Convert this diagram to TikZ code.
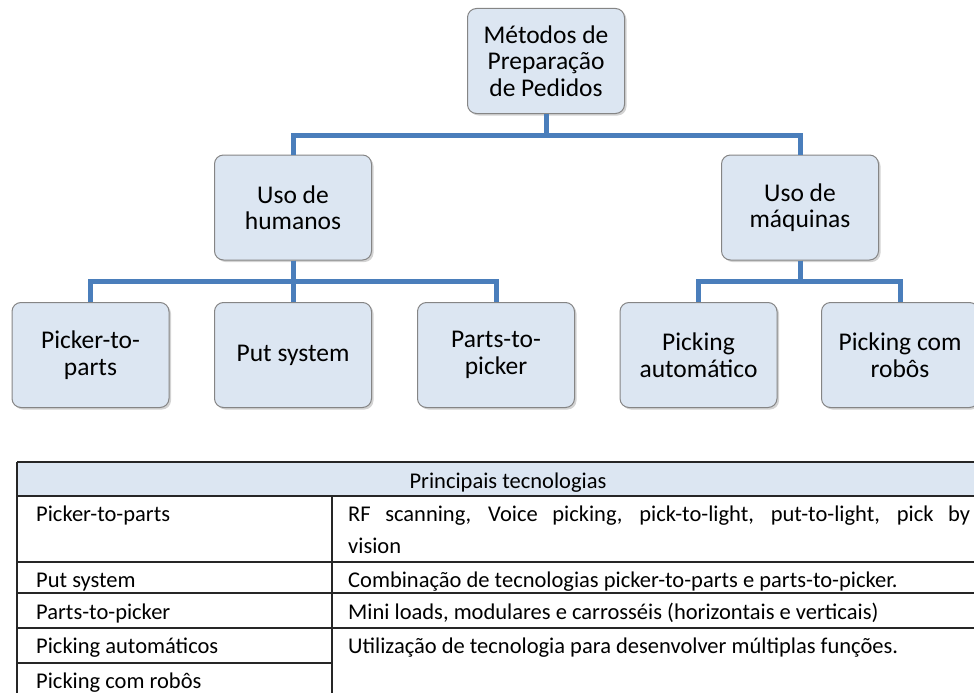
\documentclass[tikz,border=0pt]{standalone}
\usepackage{fontspec}
\setmainfont{Carlito}
\usetikzlibrary{shadows}
\definecolor{boxfill}{HTML}{DCE6F2}
\definecolor{boxline}{HTML}{858585}
\definecolor{linkblue}{HTML}{4A7EBB}

\begin{document}
\begin{tikzpicture}[x=1pt,y=-1pt,
    box/.style={draw=boxline,fill=boxfill,rounded corners=9pt,line width=1pt,
      minimum width=157pt,minimum height=105pt,align=center,
      font=\fontsize{25.5}{26.5}\selectfont,
      drop shadow={shadow xshift=2pt,shadow yshift=-2pt,opacity=.35}},
    link/.style={linkblue,line width=5pt},
    rule/.style={line width=1.3pt,black!85},
    cell/.style={anchor=base west,inner sep=0pt,font=\fontsize{22.5}{28}\selectfont}]
  \useasboundingbox (0,0) rectangle (974,693);
  \clip (0,0) rectangle (974,693);

  % arvore de metodos
  \node[box] (metodos) at (546,61) {Métodos de\\Preparação\\de Pedidos};
  \node[box] (humanos) at (293,207.5) {Uso de\\humanos};
  \node[box] (maquinas) at (800,207.5) {Uso de\\máquinas};
  \node[box] (pickerparts) at (90.5,355) {Picker-to-\\parts};
  \node[box] (putsys) at (293,355) {Put system};
  \node[box] (partspicker) at (496,355) {Parts-to-\\picker};
  \node[box] (automatico) at (698.5,355) {Picking\\automático};
  \node[box] (robos) at (900,355) {Picking com\\robôs};

  \draw[link] (metodos.south) -- ++(0,21) -| (humanos.north);
  \draw[link] (metodos.south) -- ++(0,21) -| (maquinas.north);
  \foreach \child in {pickerparts,putsys,partspicker}
    \draw[link] (humanos.south) -- ++(0,21) -| (\child.north);
  \foreach \child in {automatico,robos}
    \draw[link] (maquinas.south) -- ++(0,21) -| (\child.north);

  % tabela
  \fill[boxfill] (17,462) rectangle (1000,496);
  \foreach \y in {462,496,562,593,628}
    \draw[rule] (17,\y) -- (1000,\y);
  \draw[rule] (17,663) -- (332,663);
  \draw[rule] (17,462) -- (17,700);
  \draw[rule] (332,496) -- (332,700);

  \node[cell,anchor=base] (cabecalho) at (508,488) {Principais tecnologias};
  \node[cell] (linha1) at (36,521) {Picker-to-parts};
  \node[cell] (linha2) at (36,587) {Put system};
  \node[cell] (linha3) at (36,619) {Parts-to-picker};
  \node[cell] (linha4) at (36,653) {Picking automáticos};
  \node[cell] (linha5) at (36,688) {Picking com robôs};
  \node[cell] (tec1) at (348,521)
    {\makebox[622pt][s]{RF scanning, Voice picking, pick-to-light, put-to-light, pick by}};
  \node[cell] (tec1b) at (348,553) {vision};
  \node[cell] (tec2) at (348,587) {Combinação de tecnologias picker-to-parts e parts-to-picker.};
  \node[cell] (tec3) at (348,619) {Mini loads, modulares e carrosséis (horizontais e verticais)};
  \node[cell] (tec4) at (348,653) {Utilização de tecnologia para desenvolver múltiplas funções.};
\end{tikzpicture}
\end{document}
